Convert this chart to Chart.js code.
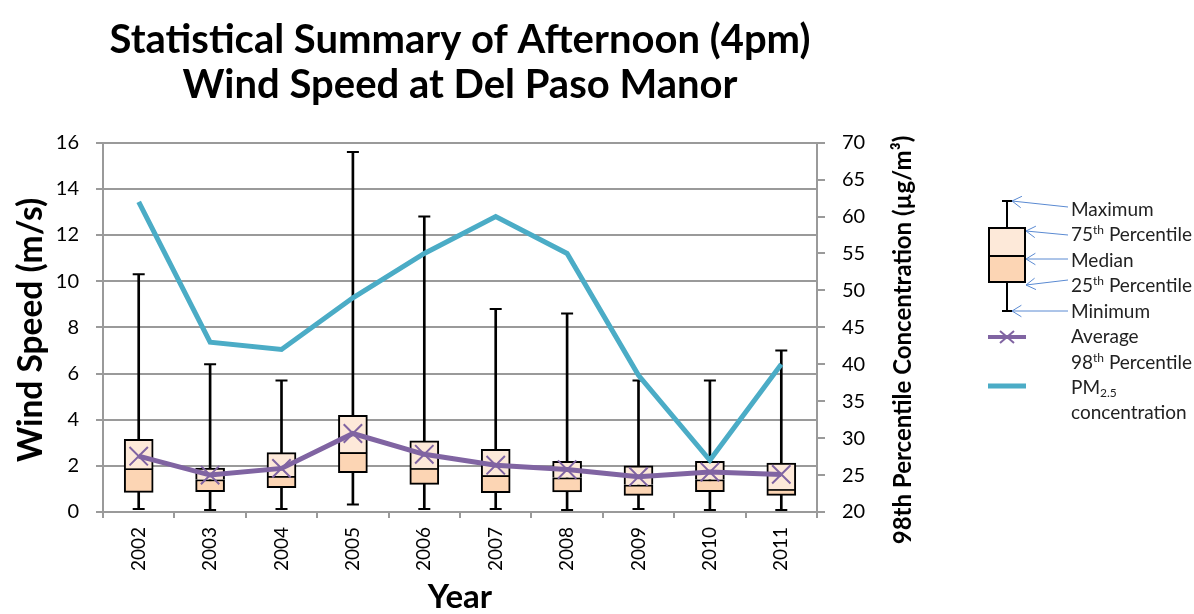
<!DOCTYPE html>
<html>
<head>
<meta charset="utf-8">
<script src="https://cdn.jsdelivr.net/npm/chart.js@4.4.1/dist/chart.umd.min.js"></script>
<style>
html,body{margin:0;padding:0;background:#fff;}
#wrap{width:1194px;height:614px;position:relative;}
</style>
</head>
<body>
<div id="wrap"><canvas id="c" width="1194" height="614"></canvas></div>
<script>
// ---- data ----
const years = ['2002','2003','2004','2005','2006','2007','2008','2009','2010','2011'];
const windMin    = [0.13, 0.09, 0.13, 0.32, 0.13, 0.13, 0.09, 0.13, 0.09, 0.09];
const windQ1     = [0.85, 0.88, 1.05, 1.70, 1.20, 0.84, 0.87, 0.72, 0.88, 0.72];
const windMedian = [1.89, 1.41, 1.56, 2.59, 1.90, 1.59, 1.49, 1.18, 1.41, 0.99];
const windQ3     = [3.15, 1.90, 2.57, 4.19, 3.08, 2.72, 2.20, 2.00, 2.20, 2.12];
const windMax    = [10.3, 6.4, 5.7, 15.6, 12.8, 8.8, 8.6, 5.7, 5.7, 7.0];
const windAvg    = [2.42, 1.60, 1.89, 3.40, 2.50, 2.03, 1.84, 1.53, 1.73, 1.63];
const pm25       = [62, 43, 42, 49, 55, 60, 55, 38.5, 27, 40];
const leftTicks  = {min: 0, max: 16, step: 2};
const rightTicks = {min: 20, max: 70, step: 5};

const FONT = 'Lato';
const GRID = '#9a9a9a';

const extras = {
  id: 'extras',
  afterDraw(chart) {
    const {ctx} = chart;
    ctx.save();
    ctx.fillStyle = '#000';
    ctx.textAlign = 'center';
    ctx.textBaseline = 'middle';
    // left axis title
    ctx.save();
    ctx.translate(31, 330);
    ctx.rotate(-Math.PI / 2);
    ctx.font = 'bold 33.5px ' + FONT;
    ctx.fillText('Wind Speed (m/s)', 0, 0);
    ctx.restore();
    // right axis title
    ctx.save();
    ctx.translate(903, 340);
    ctx.rotate(-Math.PI / 2);
    ctx.font = 'bold 24px ' + FONT;
    ctx.fillText('98th Percentile Concentration (\u00B5g/m\u00B3)', 0, 0);
    ctx.restore();

    // ---- custom legend ----
    const lx = 1007;
    ctx.lineCap = 'butt';
    ctx.strokeStyle = '#000';
    ctx.lineWidth = 2;
    ctx.beginPath();
    ctx.moveTo(lx, 201); ctx.lineTo(lx, 228);
    ctx.moveTo(lx, 282); ctx.lineTo(lx, 311);
    ctx.moveTo(lx - 5, 201); ctx.lineTo(lx + 5, 201);
    ctx.moveTo(lx - 5, 311); ctx.lineTo(lx + 5, 311);
    ctx.stroke();
    ctx.fillStyle = '#fde9d9';
    ctx.fillRect(989, 228, 36, 28);
    ctx.fillStyle = '#fcd5b4';
    ctx.fillRect(989, 256, 36, 26);
    ctx.strokeRect(989, 228, 36, 54);
    ctx.beginPath(); ctx.moveTo(989, 256); ctx.lineTo(1025, 256); ctx.stroke();
    // average
    ctx.strokeStyle = '#8064a2';
    ctx.lineWidth = 4;
    ctx.beginPath(); ctx.moveTo(988, 337); ctx.lineTo(1026, 337); ctx.stroke();
    ctx.lineWidth = 2;
    ctx.beginPath();
    ctx.moveTo(1000, 331); ctx.lineTo(1014, 343);
    ctx.moveTo(1000, 343); ctx.lineTo(1014, 331);
    ctx.stroke();
    // PM
    ctx.strokeStyle = '#4bacc6';
    ctx.lineWidth = 5;
    ctx.beginPath(); ctx.moveTo(988, 386); ctx.lineTo(1026, 386); ctx.stroke();
    // arrows
    function arrow(x1, y1, x2, y2) {
      ctx.strokeStyle = '#5a8ad2';
      ctx.lineWidth = 1;
      ctx.beginPath(); ctx.moveTo(x1, y1); ctx.lineTo(x2, y2); ctx.stroke();
      const a = Math.atan2(y1 - y2, x1 - x2);
      const L = 11, s = 0.55;
      ctx.beginPath();
      ctx.moveTo(x2 + L * Math.cos(a + s), y2 + L * Math.sin(a + s));
      ctx.lineTo(x2, y2);
      ctx.lineTo(x2 + L * Math.cos(a - s), y2 + L * Math.sin(a - s));
      ctx.stroke();
    }
    arrow(1068, 207, 1012, 201);
    arrow(1068, 235, 1026, 231);
    arrow(1068, 259, 1026, 259);
    arrow(1068, 280, 1026, 285);
    arrow(1068, 311, 1012, 311);
    // texts
    function rich(parts, x, y) {
      ctx.textAlign = 'left';
      ctx.textBaseline = 'middle';
      ctx.fillStyle = '#222';
      let cx = x;
      for (const p of parts) {
        const size = p.sup || p.sub ? 12 : 19;
        ctx.font = size + 'px ' + FONT;
        const dy = p.sup ? -5 : (p.sub ? 5 : 0);
        ctx.fillText(p.t, cx, y + dy);
        cx += ctx.measureText(p.t).width;
      }
    }
    const tx = 1071;
    rich([{t: 'Maximum'}], tx, 210);
    rich([{t: '75'}, {t: 'th', sup: true}, {t: ' Percentile'}], tx, 235);
    rich([{t: 'Median'}], tx, 261);
    rich([{t: '25'}, {t: 'th', sup: true}, {t: ' Percentile'}], tx, 286);
    rich([{t: 'Minimum'}], tx, 312);
    rich([{t: 'Average'}], tx, 337);
    rich([{t: '98'}, {t: 'th', sup: true}, {t: ' Percentile'}], tx, 363);
    rich([{t: 'PM'}, {t: '2.5', sub: true}], tx, 388);
    rich([{t: 'concentration'}], tx, 413);
    ctx.restore();
  }
};

const ctx = document.getElementById('c').getContext('2d');
new Chart(ctx, {
  type: 'bar',
  data: {
    labels: years,
    datasets: [
      {
        type: 'line', label: 'PM2.5', data: pm25, yAxisID: 'y2',
        borderColor: '#4bacc6', borderWidth: 5, pointRadius: 0, order: 0,
        borderCapStyle: 'butt', borderJoinStyle: 'miter', tension: 0
      },
      {
        type: 'line', label: 'Average', data: windAvg, yAxisID: 'y',
        borderColor: '#8064a2', borderWidth: 5, pointStyle: 'crossRot',
        pointRadius: 13, pointBorderWidth: 2, pointBorderColor: '#8064a2',
        pointBackgroundColor: '#8064a2', order: 1, tension: 0
      },
      {
        type: 'bar', label: 'Upper', yAxisID: 'y',
        data: years.map((_, i) => [windMedian[i], windQ3[i]]),
        backgroundColor: '#fde9d9', borderColor: '#000', borderWidth: 2,
        borderSkipped: 'bottom', barThickness: 29, grouped: false, order: 2
      },
      {
        type: 'bar', label: 'Lower', yAxisID: 'y',
        data: years.map((_, i) => [windQ1[i], windMedian[i]]),
        backgroundColor: '#fcd5b4', borderColor: '#000', borderWidth: 2,
        borderSkipped: false, barThickness: 29, grouped: false, order: 3
      },
      {
        type: 'line', label: 'MaxCap', data: windMax, yAxisID: 'y', showLine: false,
        pointStyle: 'line', pointRadius: 6, pointBorderWidth: 2,
        pointBorderColor: '#000', borderColor: '#000', order: 4
      },
      {
        type: 'line', label: 'MinCap', data: windMin, yAxisID: 'y', showLine: false,
        pointStyle: 'line', pointRadius: 6, pointBorderWidth: 2,
        pointBorderColor: '#000', borderColor: '#000', order: 4
      },
      {
        type: 'bar', label: 'Whisker', yAxisID: 'y',
        data: years.map((_, i) => [windMin[i], windMax[i]]),
        backgroundColor: '#000', borderWidth: 0, barThickness: 2,
        grouped: false, order: 5
      }
    ]
  },
  options: {
    responsive: false,
    animation: false,
    events: [],
    layout: {padding: {left: 0, right: 277, top: 0, bottom: 0}},
    plugins: {
      legend: {display: false},
      tooltip: {enabled: false},
      title: {
        display: true, fullSize: false,
        text: ['Statistical Summary of Afternoon (4pm)', 'Wind Speed at Del Paso Manor'],
        font: {family: FONT, size: 40, weight: 'bold', lineHeight: 1.125},
        color: '#000',
        padding: {top: 17.5, bottom: 35.2}
      }
    },
    scales: {
      x: {
        offset: true,
        grid: {display: true, drawOnChartArea: false, drawTicks: true, tickLength: 6,
               color: GRID, lineWidth: 2, offset: true},
        border: {display: true, color: GRID, width: 2},
        ticks: {minRotation: 90, maxRotation: 90, color: '#000',
                font: {family: FONT, size: 19}, padding: 9},
        title: {display: true, text: 'Year', color: '#000',
                font: {family: FONT, size: 33, weight: 'bold', lineHeight: 1.0},
                padding: {top: 0, bottom: 0}},
        afterFit(s) { s.height = 102; }
      },
      y: {
        position: 'left', min: leftTicks.min, max: leftTicks.max,
        ticks: {stepSize: leftTicks.step, color: '#000', font: {family: FONT, size: 20}, padding: 17},
        grid: {color: GRID, lineWidth: 2, tickLength: 7},
        border: {color: GRID, width: 2},
        afterFit(s) { s.width = 103; }
      },
      y2: {
        position: 'right', min: rightTicks.min, max: rightTicks.max,
        ticks: {stepSize: rightTicks.step, color: '#000', font: {family: FONT, size: 20}, padding: 17},
        grid: {drawOnChartArea: false, color: GRID, lineWidth: 2, tickLength: 8},
        border: {color: GRID, width: 2},
        afterFit(s) { s.width = 100; }
      }
    }
  },
  plugins: [extras]
});
</script>
</body>
</html>
